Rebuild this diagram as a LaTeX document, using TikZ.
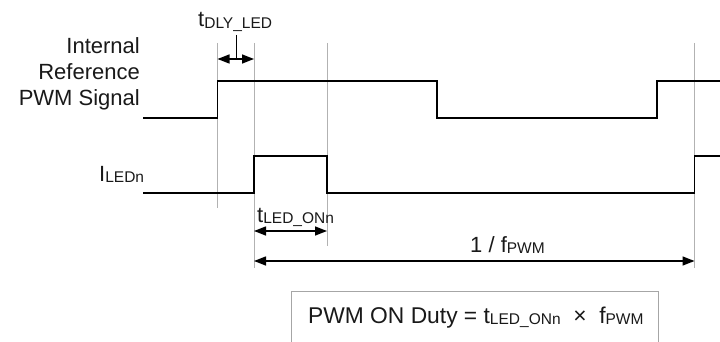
\documentclass[tikz,border=0pt]{standalone}
\usepackage{fontspec}
\setmainfont{Liberation Sans}
\usetikzlibrary{arrows.meta}
\newcommand\subtx[1]{\raisebox{-1.5pt}{\fontsize{15.5}{15.5}\selectfont #1}}
\begin{document}
\begin{tikzpicture}[x=1pt,y=-1pt,
  sig/.style={line width=1.4pt, line join=miter},
  guide/.style={line width=0.8pt, draw=black!30},
  dim/.style={line width=1.4pt, {Triangle[length=12pt,width=9pt]}-{Triangle[length=12pt,width=9pt]}},
  lbl/.style={inner sep=0pt, font=\fontsize{22}{26}\selectfont, text=black!90},
  frame/.style={line width=1pt, draw=black!35}]
\useasboundingbox (0,0) rectangle (720,342);
% guide lines
\coordinate (g1t) at (217.5,43); \coordinate (g1b) at (217.5,208);
\coordinate (g2t) at (254,43);   \coordinate (g2b) at (254,268);
\coordinate (g3t) at (327,43);   \coordinate (g3b) at (327,246);
\coordinate (g4t) at (694.5,43); \coordinate (g4b) at (694.5,268);
\draw[guide] (g1t) -- (g1b);
\draw[guide] (g2t) -- (g2b);
\draw[guide] (g3t) -- (g3b);
\draw[guide] (g4t) -- (g4b);
% signals
\draw[sig] (143,118) -- (217.5,118) -- (217.5,81) -- (437,81) -- (437,118) -- (657,118) -- (657,81) -- (720,81);
\draw[sig] (143,193) -- (254,193) -- (254,156) -- (327,156) -- (327,193) -- (694.5,193) -- (694.5,156) -- (720,156);
% labels
\node[lbl, anchor=base east] (l1) at (140,54) {Internal};
\node[lbl, anchor=base east] (l2) at (140,80) {Reference};
\node[lbl, anchor=base east] (l3) at (140,106) {PWM Signal};
\node[lbl, anchor=base west] (l4) at (99,181) {I\subtx{LEDn}};
% dimension arrows
\coordinate (a1l) at (217.5,59); \coordinate (a1r) at (254,59);
\draw[dim] (a1l) -- (a1r);
\coordinate (tk1) at (236,35); \coordinate (tk2) at (236,59);
\draw[line width=0.9pt] (tk1) -- (tk2);
\node[lbl, anchor=base west] (dly) at (198,27) {t\subtx{DLY\_LED}};
\coordinate (a2l) at (254,231); \coordinate (a2r) at (327,231);
\draw[dim] (a2l) -- (a2r);
\node[lbl, anchor=base west] (ton) at (257,222) {t\subtx{LED\_ONn}};
\coordinate (a3l) at (254,261); \coordinate (a3r) at (694.5,261);
\draw[dim] (a3l) -- (a3r);
\node[lbl, anchor=base west] (per) at (470,252) {1 / f\subtx{PWM}};
% formula box
\coordinate (b1) at (291,343); \coordinate (b2) at (291,291);
\coordinate (b3) at (658,291); \coordinate (b4) at (658,343);
\draw[frame] (b1) -- (b2) -- (b3) -- (b4);
\node[lbl, anchor=base west, font=\fontsize{22.8}{26}\selectfont] (duty) at (308,323) {PWM ON Duty = t\subtx{LED\_ONn} \;×\; f\subtx{PWM}};
\end{tikzpicture}
\end{document}
